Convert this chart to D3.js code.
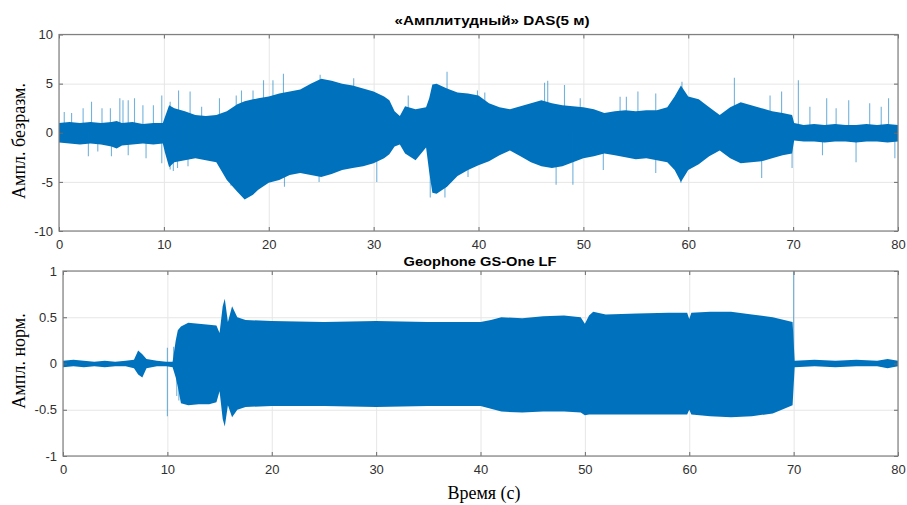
<!DOCTYPE html>
<html lang="ru">
<head>
    <meta charset="UTF-8">
    <title>DAS / Geophone</title>
    <script src="https://d3js.org/d3.v7.min.js"></script>
    <style>
        body { margin: 0; background: white; }
        .grid .domain { stroke: none; }
        .grid line { stroke: #e6e6e6; }
        .tk .domain { stroke: none; }
        .tk line { stroke: #6a6a6a; }
        .tk text { font-family: "Liberation Sans", Arial, sans-serif; font-size: 13px; fill: #303030; }
    </style>
</head>
<body>
<svg id="svg1" width="907" height="505"></svg>

<script>
    // ---------- data ----------
    const timeTicks = [0, 10, 20, 30, 40, 50, 60, 70, 80];
    const dasTicks = [-10, -5, 0, 5, 10];
    const geoTicks = [-1, -0.5, 0, 0.5, 1];

    // DAS envelope (time s, upper, lower)
    const dasTime  = [0, 1, 2, 3, 4, 5, 5.5, 6, 7, 8, 9, 9.9, 10.1, 10.5, 11, 12, 13, 14, 15, 16, 17, 17.7, 18.5, 19, 20,
                      21, 22, 23, 24, 25, 26, 27, 28, 29, 30, 31, 31.5, 32, 32.5, 33, 34, 35, 35.3, 35.6, 36, 37, 38, 39, 40,
                      41, 42, 43, 44, 45, 46, 47, 48, 49, 50, 51, 52, 53, 54, 55, 56, 57, 58, 58.7, 59.3, 60,
                      61, 62, 63, 64, 65, 66, 67, 68, 69, 69.9, 70.1, 71, 72, 73, 74, 75, 76, 77, 78, 79, 80];
    const dasUpper = [1.0, 1.1, 1.0, 1.1, 1.0, 1.1, 1.2, 1.0, 1.1, 0.9, 1.0, 1.0, 1.6, 2.8, 2.5, 2.2, 1.8, 1.7, 1.8, 2.2, 2.9, 3.2, 3.4, 3.5, 3.7,
                      4.0, 4.2, 4.4, 5.0, 5.5, 5.3, 5.0, 4.8, 4.5, 4.2, 3.7, 3.3, 2.2, 1.7, 2.7, 2.4, 2.6, 3.5, 4.9, 5.0, 4.5, 4.1, 4.0, 3.8,
                      3.0, 2.6, 2.4, 2.7, 3.0, 3.3, 3.0, 2.8, 2.7, 2.6, 2.4, 2.0, 2.2, 2.3, 2.2, 2.3, 2.3, 2.6, 3.7, 4.8, 3.7,
                      3.4, 2.6, 1.8, 2.6, 3.1, 2.8, 2.5, 2.2, 2.0, 1.8, 1.0, 0.8, 0.9, 0.8, 0.9, 0.8, 0.8, 0.9, 0.8, 0.9, 0.8];
    const dasLower = [-1.0, -1.1, -1.2, -1.1, -1.2, -1.4, -1.6, -1.3, -1.2, -1.1, -1.2, -1.1, -2.0, -3.5, -3.0, -2.8, -2.6, -2.8, -3.0, -4.8, -6.0, -6.8, -6.3, -5.8, -5.1,
                      -4.8, -4.3, -4.1, -4.3, -4.5, -4.2, -3.8, -3.6, -3.4, -3.1, -2.6, -2.2, -1.4, -1.2, -2.1, -2.8, -1.5, -4.0, -6.1, -6.2, -5.5, -4.4, -3.8, -3.3,
                      -2.9, -2.3, -1.8, -2.4, -3.0, -3.4, -3.6, -3.4, -3.0, -2.6, -2.4, -2.1, -2.3, -2.5, -2.7, -2.6, -2.8, -3.0, -3.8, -5.0, -3.8,
                      -3.2, -2.4, -1.8, -2.6, -3.1, -3.0, -2.9, -2.6, -2.3, -2.1, -0.8, -0.9, -0.9, -1.0, -0.9, -0.9, -1.0, -0.9, -0.9, -1.0, -0.9];

    // DAS isolated spikes (time s, peak value)
    const dasSpikeTime  = [0.5, 1.2, 2.3, 3.1, 4.1, 4.9, 5.8, 6.1, 6.6, 7.2, 8.0, 9.0, 9.8, 10.6, 11.4, 12.5, 13.6, 15.3, 16.9, 17.4, 18.5, 19.5,
                           20.4, 21.4, 24.9, 28.1, 33.3, 37.0, 39.9, 40.6, 46.3, 46.6, 48.2, 49.7, 53.5, 54.1, 55.2, 56.9, 59.4,
                           64.4, 67.8, 68.9, 70.5, 71.6, 73.2, 74.1, 75.3, 77.3, 78.4, 79.1,
                           2.8, 3.7, 5.0, 6.6, 8.3, 9.8, 10.6, 10.9, 11.3, 12.3, 16.4, 21.5, 24.8, 30.3, 35.4, 36.8, 39.0,
                           47.4, 49.0, 51.9, 56.9, 59.3, 67.0, 69.9, 72.8, 76.0, 79.7];
    const dasSpikeValue = [2.1, 2.0, 2.5, 3.15, 2.5, 2.5, 3.5, 3.3, 3.3, 3.5, 2.8, 2.8, 3.8, 3.15, 4.3, 4.2, 2.65, 3.5, 3.8, 4.3, 4.3, 5.35,
                           5.35, 6.0, 5.9, 5.55, 3.8, 6.2, 4.3, 4.1, 5.1, 5.3, 4.85, 3.5, 3.66, 3.66, 4.2, 4.0, 5.2,
                           5.6, 3.8, 4.2, 5.35, 2.65, 3.5, 2.5, 3.3, 3.0, 2.65, 3.5,
                           -2.4, -1.9, -2.4, -2.3, -2.6, -3.1, -3.75, -3.9, -3.6, -3.4, -5.4, -5.5, -5.0, -5.0, -6.6, -6.6, -4.5,
                           -5.3, -5.3, -3.8, -4.1, -5.1, -4.6, -3.6, -2.3, -3.0, -2.6];

    // Geophone envelope (time s, upper, lower)
    const geoTime  = [0, 1, 2, 3, 4, 5, 6, 6.8, 7.2, 7.6, 8, 9, 9.9, 10.5, 10.8, 11, 11.3, 12, 13, 14, 14.7, 15.0, 15.3, 15.5, 15.8, 16.2, 16.7, 17.5,
                      20, 25, 30, 35, 40, 41, 42, 44, 46, 48, 49.6, 50.0, 50.4, 50.8, 52, 55, 58, 59.8, 60.0, 60.2, 62, 64, 66, 68, 69.9,
                      70.1, 72, 74, 76, 78, 79, 80];
    const geoUpper = [0.03, 0.04, 0.03, 0.02, 0.03, 0.02, 0.03, 0.04, 0.14, 0.10, 0.05, 0.03, 0.02, 0.02, 0.25, 0.36, 0.40, 0.44, 0.43, 0.42, 0.41, 0.33, 0.62, 0.70, 0.45, 0.62, 0.50, 0.47,
                      0.46, 0.45, 0.46, 0.45, 0.45, 0.47, 0.50, 0.49, 0.51, 0.52, 0.50, 0.43, 0.52, 0.56, 0.53, 0.54, 0.55, 0.55, 0.48, 0.55, 0.56, 0.56, 0.53, 0.50, 0.45,
                      0.03, 0.04, 0.03, 0.04, 0.03, 0.05, 0.03];
    const geoLower = [-0.04, -0.03, -0.04, -0.03, -0.04, -0.03, -0.03, -0.05, -0.12, -0.15, -0.05, -0.03, -0.03, -0.04, -0.15, -0.25, -0.43, -0.45, -0.44, -0.44, -0.42, -0.30, -0.60, -0.68, -0.45, -0.58, -0.50, -0.47,
                      -0.46, -0.46, -0.47, -0.46, -0.46, -0.49, -0.52, -0.53, -0.52, -0.52, -0.53, -0.56, -0.55, -0.55, -0.55, -0.55, -0.55, -0.55, -0.50, -0.55, -0.57, -0.58, -0.57, -0.54, -0.45,
                      -0.04, -0.03, -0.04, -0.03, -0.03, -0.05, -0.03];

    const geoSpikeTime  = [10.0, 10.0, 10.6, 10.9, 11.1, 70.0];
    const geoSpikeValue = [0.17, -0.57, 0.18, -0.35, -0.40, 1.0];

    // ---------- svg ----------
    const svg1 = d3.select("svg#svg1");
    const blue = "#0072BD";
    const plainMinus = f => (d => f(d).replace("\u2212", "-"));

    const panels = [
        { id: "das", left: 59, right: 898, top: 34.5, bottom: 231, yDomain: [-10, 10], yTicks: dasTicks, yFmt: plainMinus(d3.format("d")),
          time: dasTime, upper: dasUpper, lower: dasLower, spT: dasSpikeTime, spV: dasSpikeValue,
          title: "«Амплитудный» DAS(5 м)", titleX: 492, titleY: 25, titleLen: 195, ylabel: "Ампл. безразм.", ylabelY: 141 },
        { id: "geo", left: 63, right: 898, top: 271, bottom: 456, yDomain: [-1, 1], yTicks: geoTicks, yFmt: plainMinus(d3.format("")),
          time: geoTime, upper: geoUpper, lower: geoLower, spT: geoSpikeTime, spV: geoSpikeValue,
          title: "Geophone GS-One LF", titleX: 480, titleY: 266, titleLen: 153, ylabel: "Ампл. норм.", ylabelY: 361 }
    ];

    panels.forEach(p => {
        const w = p.right - p.left, h = p.bottom - p.top;
        const x = d3.scaleLinear().domain([0, 80]).range([p.left, p.right]);
        const y = d3.scaleLinear().domain(p.yDomain).range([p.bottom, p.top]);

        // grid
        svg1.append("g").attr("class", "grid")
            .attr("transform", `translate(0,${p.bottom})`)
            .call(d3.axisBottom(x).tickValues(timeTicks).tickSize(-h).tickFormat(""));
        svg1.append("g").attr("class", "grid")
            .attr("transform", `translate(${p.left},0)`)
            .call(d3.axisLeft(y).tickValues(p.yTicks).tickSize(-w).tickFormat(""));

        // clip
        svg1.append("clipPath").attr("id", "clip-" + p.id)
            .append("rect").attr("x", p.left).attr("y", p.top).attr("width", w).attr("height", h);
        const plot = svg1.append("g").attr("clip-path", `url(#clip-${p.id})`);

        const env = p.time.map((t, i) => ({ t: t, hi: p.upper[i], lo: p.lower[i] }));
        const area = d3.area().x(d => x(d.t)).y0(d => y(d.lo)).y1(d => y(d.hi));
        plot.append("path").datum(env).attr("d", area).attr("fill", blue);

        const spikes = p.spT.map((t, i) => ({ t: t, v: p.spV[i] }));
        plot.selectAll("line.spike").data(spikes).join("line")
            .attr("class", "spike")
            .attr("x1", d => x(d.t)).attr("x2", d => x(d.t))
            .attr("y1", y(0)).attr("y2", d => y(d.v))
            .attr("stroke", blue).attr("stroke-opacity", 0.55).attr("stroke-width", 1.1);

        // ticks (inward, on all sides)
        svg1.append("g").attr("class", "tk")
            .attr("transform", `translate(0,${p.bottom})`)
            .call(d3.axisBottom(x).tickValues(timeTicks).tickSize(-4).tickPadding(9));
        svg1.append("g").attr("class", "tk")
            .attr("transform", `translate(0,${p.top})`)
            .call(d3.axisTop(x).tickValues(timeTicks).tickSize(-4).tickFormat(""));
        svg1.append("g").attr("class", "tk")
            .attr("transform", `translate(${p.left},0)`)
            .call(d3.axisLeft(y).tickValues(p.yTicks).tickSize(-4).tickPadding(6).tickFormat(p.yFmt));
        svg1.append("g").attr("class", "tk")
            .attr("transform", `translate(${p.right},0)`)
            .call(d3.axisRight(y).tickValues(p.yTicks).tickSize(-4).tickFormat(""));

        // box
        svg1.append("rect")
            .attr("x", p.left).attr("y", p.top).attr("width", w).attr("height", h)
            .attr("fill", "none").attr("stroke", "#808080").attr("stroke-width", 1.2);

        // title
        svg1.append("text")
            .attr("x", p.titleX).attr("y", p.titleY)
            .attr("text-anchor", "middle")
            .attr("textLength", p.titleLen).attr("lengthAdjust", "spacingAndGlyphs")
            .style("font-family", "'Liberation Sans', Arial, sans-serif")
            .style("font-weight", "bold").style("font-size", "13.5px")
            .text(p.title);

        // y label
        svg1.append("text")
            .attr("transform", `translate(25,${p.ylabelY}) rotate(-90)`)
            .attr("text-anchor", "middle")
            .style("font-family", "'Liberation Serif', 'Times New Roman', serif")
            .style("font-size", "18px")
            .text(p.ylabel);
    });

    svg1.append("text")
        .attr("x", 484).attr("y", 499)
        .attr("text-anchor", "middle")
        .style("font-family", "'Liberation Serif', 'Times New Roman', serif")
        .style("font-size", "18px")
        .text("Время (с)");
</script>
</body>
</html>
